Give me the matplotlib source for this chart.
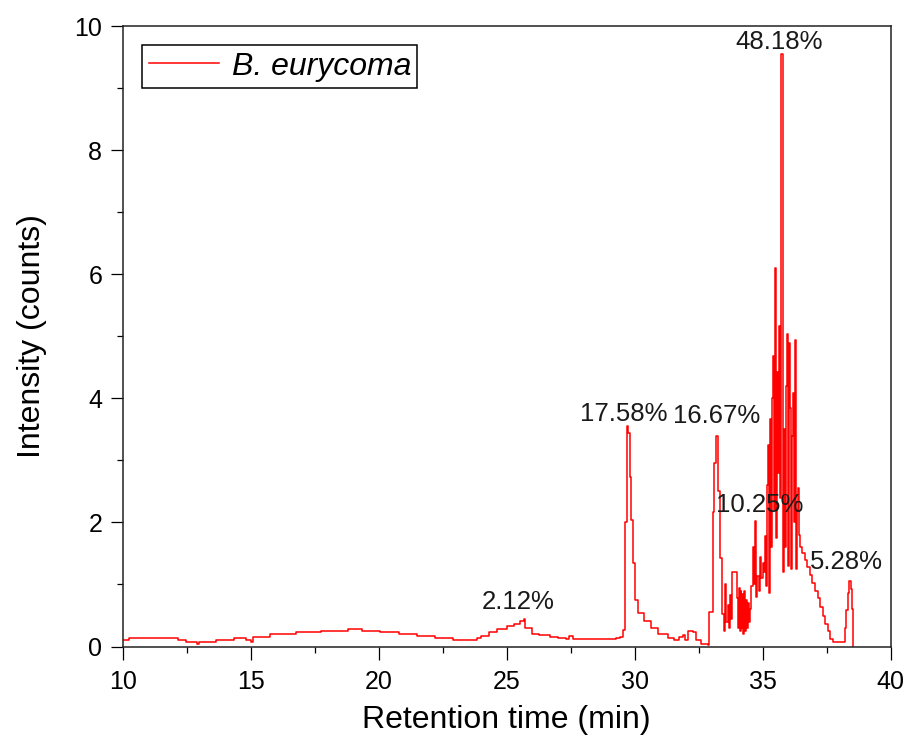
import matplotlib
matplotlib.use('Agg')
import matplotlib.pyplot as plt
from matplotlib.ticker import MultipleLocator

plt.rcParams['font.family'] = ['Liberation Sans', 'DejaVu Sans']

# chromatogram trace (min, counts)
times = [10.00, 10.25, 12.15, 12.45, 12.90, 12.95, 13.65, 14.35, 14.80, 15.02,
         15.08, 15.75, 16.75, 17.75, 18.80, 19.35, 20.05, 20.80, 21.50, 22.20,
         22.90, 23.85, 24.00, 24.30, 24.60, 25.00, 25.30, 25.50, 25.67, 25.72,
         25.97, 26.27, 26.70, 27.00, 27.30, 27.45, 27.60, 28.50, 29.25, 29.43,
         29.56, 29.62, 29.68, 29.75, 29.80, 29.87, 29.94, 30.00, 30.12, 30.38,
         30.64, 30.90, 31.30, 31.55, 31.75, 31.88, 31.95, 32.08, 32.27, 32.40,
         32.60, 32.85, 32.92, 33.05, 33.10, 33.17, 33.24, 33.35, 33.41, 33.50,
         33.54, 33.58, 33.63, 33.67, 33.72, 33.77, 33.82, 33.98, 34.02, 34.06,
         34.10, 34.14, 34.17, 34.20, 34.24, 34.27, 34.30, 34.34, 34.38, 34.42,
         34.46, 34.50, 34.55, 34.61, 34.66, 34.70, 34.75, 34.80, 34.86, 34.90,
         34.95, 35.00, 35.05, 35.08, 35.12, 35.17, 35.20, 35.24, 35.28, 35.32,
         35.36, 35.40, 35.44, 35.47, 35.50, 35.54, 35.58, 35.62, 35.65, 35.69,
         35.71, 35.81, 35.85, 35.89, 35.93, 35.97, 36.01, 36.05, 36.09, 36.12,
         36.16, 36.19, 36.23, 36.27, 36.31, 36.34, 36.38, 36.43, 36.48, 36.55,
         36.65, 36.75, 36.85, 36.95, 37.05, 37.15, 37.25, 37.35, 37.45, 37.55,
         37.65, 37.75, 38.15, 38.22, 38.27, 38.32, 38.38, 38.45, 38.50, 38.53,
         38.55]
intensity = [0.10, 0.135, 0.10, 0.07, 0.04, 0.07, 0.10, 0.135, 0.10, 0.07,
             0.16, 0.20, 0.23, 0.25, 0.29, 0.25, 0.23, 0.20, 0.17, 0.13,
             0.107, 0.13, 0.17, 0.235, 0.29, 0.33, 0.37, 0.41, 0.44, 0.30,
             0.20, 0.18, 0.16, 0.13, 0.12, 0.17, 0.12, 0.12, 0.14, 0.16,
             0.27, 2.00, 3.55, 3.44, 2.74, 2.04, 1.35, 0.75, 0.54, 0.41,
             0.30, 0.20, 0.14, 0.10, 0.15, 0.18, 0.10, 0.25, 0.23, 0.10,
             0.04, 0.03, 0.55, 2.17, 2.95, 3.40, 2.50, 1.43, 0.52, 0.25,
             1.00, 0.40, 0.67, 0.30, 0.83, 0.45, 1.20, 0.78, 0.30, 0.95,
             0.25, 0.90, 0.30, 0.85, 0.20, 0.90, 0.25, 0.75, 0.30, 0.70,
             0.40, 0.60, 0.97, 1.60, 1.00, 2.02, 0.80, 1.13, 0.90, 1.45,
             1.10, 1.35, 1.20, 1.78, 0.97, 2.60, 3.25, 0.86, 3.66, 1.60,
             4.00, 4.68, 2.20, 4.43, 6.10, 1.75, 4.43, 2.80, 5.16, 2.40,
             9.55, 1.20, 3.50, 1.60, 4.20, 5.03, 1.30, 4.89, 3.84, 1.25,
             3.40, 4.08, 2.00, 4.94, 1.25, 2.20, 2.55, 1.80, 1.60, 1.50,
             1.40, 1.28, 1.15, 1.02, 0.90, 0.78, 0.64, 0.50, 0.37, 0.25,
             0.12, 0.08, 0.08, 0.30, 0.59, 0.86, 1.05, 0.92, 0.60, 0.30,
             0.00]

# peak area labels and where they sit
peak_labels = ['2.12%', '17.58%', '16.67%', '10.25%', '48.18%', '5.28%']
label_x = [25.43, 29.57, 33.22, 34.88, 35.66, 38.28]
label_y = [0.72, 3.74, 3.72, 2.28, 9.74, 1.37]

fig = plt.figure(figsize=(9.05, 7.44), dpi=100)
ax = fig.add_axes([0.136, 0.131, 0.848, 0.834])

ax.plot(times, intensity, color='#ff0000', lw=1.1, drawstyle='steps-post',
        label='B. eurycoma')

for txt, x, y in zip(peak_labels, label_x, label_y):
    ax.text(x, y, txt, ha='center', va='center', fontsize=18.5, color='#1a1a1a')

ax.set_xlim(10, 40)
ax.set_ylim(0, 10)
ax.xaxis.set_major_locator(MultipleLocator(5))
ax.xaxis.set_minor_locator(MultipleLocator(2.5))
ax.yaxis.set_major_locator(MultipleLocator(2))
ax.yaxis.set_minor_locator(MultipleLocator(1))
ax.tick_params(which='both', direction='out', top=False, right=False,
               width=0.9, labelsize=18)
ax.tick_params(which='major', length=9, pad=6)
ax.tick_params(axis='x', which='major', pad=8)
ax.tick_params(which='minor', length=4.5)
for s in ax.spines.values():
    s.set_linewidth(1.1)
    s.set_color('#222222')

ax.set_xlabel('Retention time (min)', fontsize=23, labelpad=8)
ax.set_ylabel('Intensity (counts)', fontsize=23, labelpad=20)

leg = ax.legend(loc='upper left', prop={'size': 23, 'style': 'italic'},
                fancybox=False, edgecolor='black', framealpha=1,
                handlelength=2.2, handletextpad=0.4, borderpad=0.2,
                borderaxespad=0.6)
leg.get_frame().set_linewidth(1.1)

fig.savefig('out.png', dpi=100)
